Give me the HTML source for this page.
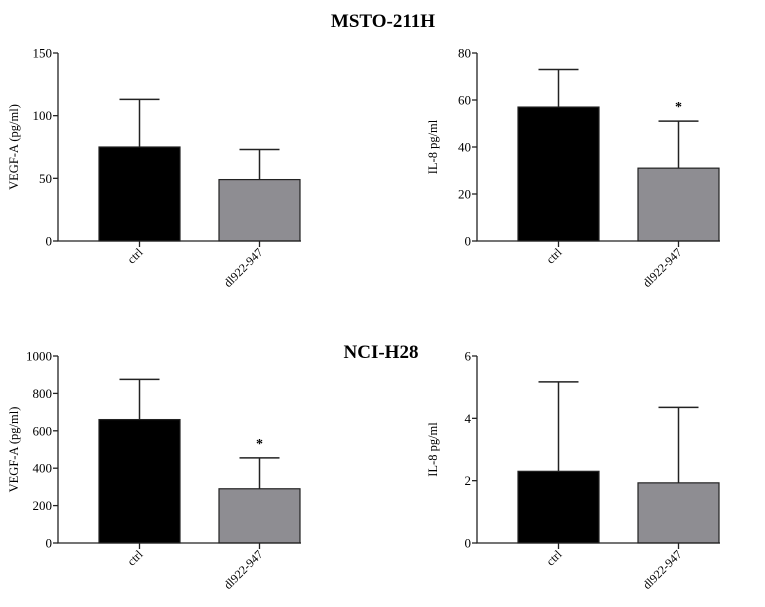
<!DOCTYPE html>
<html><head><meta charset="utf-8"><style>
body{margin:0;background:#fff}
svg text{font-family:"Liberation Serif",serif;fill:#000}
</style></head><body>
<svg width="765" height="602" id="fig">
<text x="383" y="27" text-anchor="middle" font-size="19" font-weight="bold">MSTO-211H</text>
<text x="381" y="358" text-anchor="middle" font-size="19" font-weight="bold">NCI-H28</text>
</svg>
<script>
const categories=["ctrl","dl922-947"];
const mstoVegfMean=[75,49], mstoVegfErr=[113,73];
const mstoIl8Mean=[57,31], mstoIl8Err=[73,51];
const nciVegfMean=[660,290], nciVegfErr=[875,455];
const nciIl8Mean=[2.3,1.93], nciIl8Err=[5.17,4.35];
const mstoVegfTicks=[0,50,100,150], mstoIl8Ticks=[0,20,40,60,80];
const nciVegfTicks=[0,200,400,600,800,1000], nciIl8Ticks=[0,2,4,6];
const svg=document.getElementById('fig');
const NS="http://www.w3.org/2000/svg";
function mk(tag,attrs,parent){const e=document.createElementNS(NS,tag);for(const k in attrs)e.setAttribute(k,attrs[k]);(parent||svg).appendChild(e);return e;}
function panel(id,ax,top,bot,ticks,means,errs,label,stars){
  const g=mk('g',{});
  
  
  const max=ticks[ticks.length-1];
  const y=v=>bot-(v/max)*(bot-top);
  const bx=[ax+41,ax+161], bw=81;
  means.forEach((m,i)=>{
    const cx=bx[i]+bw/2;
    const el=mk('line',{x1:cx,x2:cx,y1:y(m),y2:y(errs[i]),stroke:'#222','stroke-width':1.5},g);
    
    
    const cap=mk('line',{x1:cx-20,x2:cx+20,y1:y(errs[i]),y2:y(errs[i]),stroke:'#222','stroke-width':1.5},g);
    
    
    const r=mk('rect',{x:bx[i],y:y(m),width:bw,height:bot-y(m),fill:i?'#8e8d92':'#000',stroke:'#222','stroke-width':1.2},g);
    
    
    const tk=mk('line',{x1:cx,x2:cx,y1:bot,y2:bot+6,stroke:'#222','stroke-width':1.3},g);
    
    
    const t=mk('text',{transform:`translate(${cx+4},${bot+12}) rotate(-45)`,'text-anchor':'end','font-size':12},g);
    t.textContent=categories[i];
    
    
    if(stars[i]){const s=mk('text',{x:cx,y:y(errs[i])-10,'text-anchor':'middle','font-size':14,'font-weight':'bold'},g);s.textContent='*';
      
      }
  });
  const a=mk('path',{d:`M${ax},${top}V${bot}H${ax+243}`,fill:'none',stroke:'#222','stroke-width':1.3},g);
  
  
  ticks.forEach(v=>{
    const l=mk('line',{x1:ax-5,x2:ax,y1:y(v),y2:y(v),stroke:'#222','stroke-width':1.3},g);
    
    
    const t=mk('text',{x:ax-6,y:y(v)+4.5,'text-anchor':'end','font-size':13},g);
    t.textContent=v;
    
    
  });
  const yl=mk('text',{transform:`translate(${ax-40},${(top+bot)/2}) rotate(-90)`,'text-anchor':'middle','font-size':12.5},g);
  yl.textContent=label;
  
  
}
panel('msto-vegf',58,53,241,mstoVegfTicks,mstoVegfMean,mstoVegfErr,'VEGF-A (pg/ml)',[0,0]);
panel('msto-il8',477,53,241,mstoIl8Ticks,mstoIl8Mean,mstoIl8Err,'IL-8 pg/ml',[0,1]);
panel('nci-vegf',58,356,543,nciVegfTicks,nciVegfMean,nciVegfErr,'VEGF-A (pg/ml)',[0,1]);
panel('nci-il8',477,356,543,nciIl8Ticks,nciIl8Mean,nciIl8Err,'IL-8 pg/ml',[0,0]);
</script>
</body></html>
